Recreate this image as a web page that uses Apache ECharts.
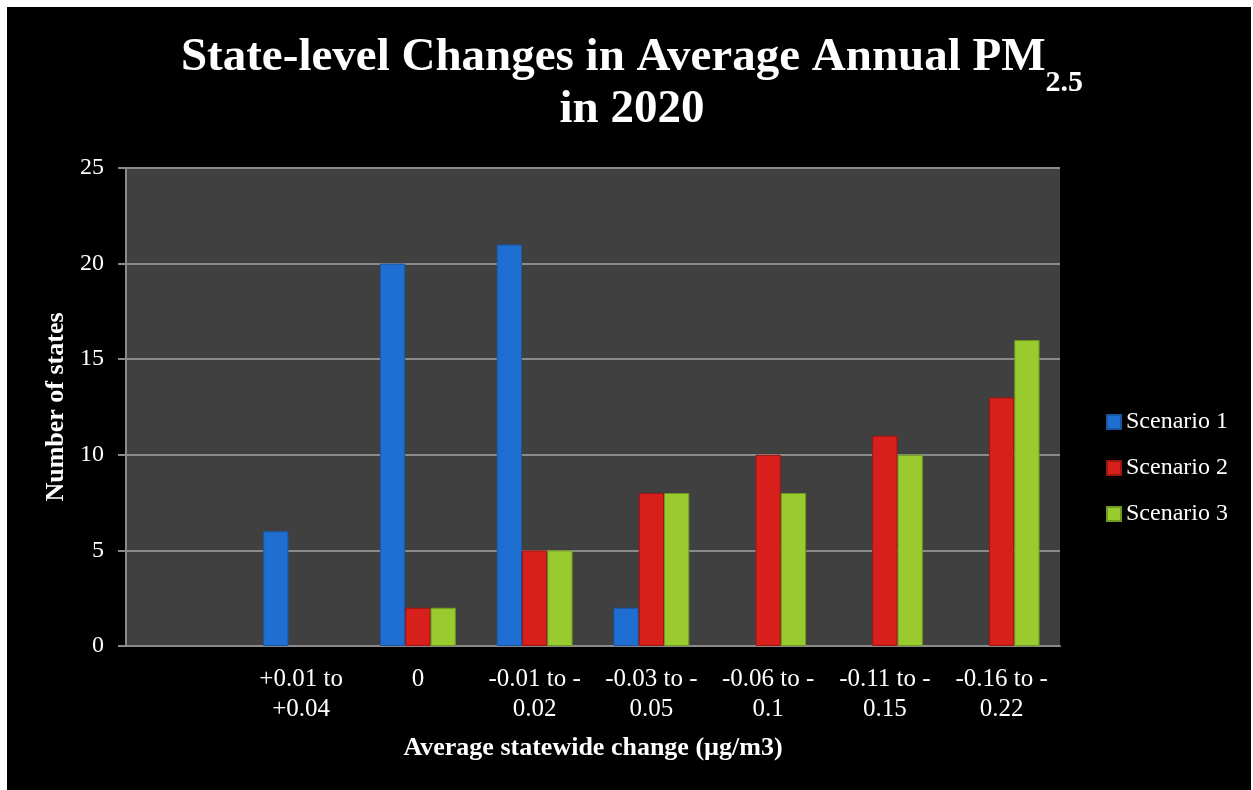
<!DOCTYPE html>
<html>
<head>
<meta charset="utf-8">
<script src="https://cdn.jsdelivr.net/npm/echarts@6/dist/echarts.min.js"></script>
<style>
  html, body { margin: 0; padding: 0; background: #ffffff; }
  #chart { position: absolute; left: 7px; top: 7px; width: 1244px; height: 783px; }
</style>
</head>
<body>
<div id="chart"></div>
<script>
const categories = ['', '+0.01 to\n+0.04', '0', '-0.01 to -\n0.02', '-0.03 to -\n0.05', '-0.06 to -\n0.1', '-0.11 to -\n0.15', '-0.16 to -\n0.22'];
const scenario1 = [0, 6, 20, 21, 2, 0, 0, 0];
const scenario2 = [0, 0, 2, 5, 8, 10, 11, 13];
const scenario3 = [0, 0, 2, 5, 8, 8, 10, 16];
const yTicks = [0, 5, 10, 15, 20, 25];

const serif = '"Liberation Serif", "DejaVu Serif", serif';
const chart = echarts.init(document.getElementById('chart'));

function barSeries(name, data, color, border) {
  return {
    name: name,
    type: 'bar',
    // zero counts are left empty, as in the original chart
    data: data.map(v => (v === 0 ? null : v)),
    barGap: '0%',
    barCategoryGap: '35%',
    itemStyle: { color: color, borderColor: border, borderWidth: 1 }
  };
}

chart.setOption({
  backgroundColor: '#000000',
  animation: false,
  title: [{
    text: '{t|State-level Changes in Average Annual PM}{s|2.5}{g| }',
    left: 620,
    textAlign: 'center',
    top: 22,
    textStyle: {
      rich: {
        t: { fontFamily: serif, fontWeight: 'bold', fontSize: 47, color: '#ffffff', lineHeight: 50, verticalAlign: 'top' },
        s: { fontFamily: serif, fontWeight: 'bold', fontSize: 30, color: '#ffffff', lineHeight: 30, verticalAlign: 'bottom' },
        g: { fontSize: 1, lineHeight: 64, width: 0, verticalAlign: 'bottom' }
      }
    }
  }, {
    text: 'in 2020',
    left: 620,
    textAlign: 'center',
    top: 73,
    textStyle: { fontFamily: serif, fontWeight: 'bold', fontSize: 47, color: '#ffffff', lineHeight: 50 }
  }],
  legend: {
    orient: 'vertical',
    left: 1094,
    top: 398,
    itemWidth: 14,
    itemHeight: 14,
    itemGap: 22,
    icon: 'rect',
    textStyle: { fontFamily: serif, fontSize: 24, color: '#ffffff' },
    data: ['Scenario 1', 'Scenario 2', 'Scenario 3']
  },
  grid: {
    left: 119,
    top: 161,
    right: 191,
    bottom: 144,
    show: true,
    backgroundColor: '#404040',
    borderWidth: 0
  },
  xAxis: {
    type: 'category',
    data: categories,
    name: 'Average statewide change (µg/m3)',
    nameLocation: 'middle',
    nameGap: 89,
    nameTextStyle: { fontFamily: serif, fontWeight: 'bold', fontSize: 26, color: '#ffffff' },
    axisLine: { lineStyle: { color: '#8a8a8a', width: 2 } },
    axisTick: { show: false },
    axisLabel: { fontFamily: serif, fontSize: 25, color: '#ffffff', lineHeight: 30, margin: 18, interval: 0 },
    splitLine: { show: false }
  },
  yAxis: {
    type: 'value',
    min: yTicks[0],
    max: yTicks[yTicks.length - 1],
    interval: 5,
    name: 'Number of states',
    nameLocation: 'middle',
    nameRotate: 90,
    nameGap: 55,
    nameTextStyle: { fontFamily: serif, fontWeight: 'bold', fontSize: 26, color: '#ffffff' },
    axisLine: { show: true, lineStyle: { color: '#8a8a8a', width: 2 } },
    axisTick: { show: true, length: 8, lineStyle: { color: '#8a8a8a', width: 2 } },
    axisLabel: { fontFamily: serif, fontSize: 24, color: '#ffffff', margin: 22 },
    splitLine: { show: true, lineStyle: { color: '#8a8a8a', width: 2 } }
  },
  series: [
    barSeries('Scenario 1', scenario1, '#1F6FD2', '#1A56A0'),
    barSeries('Scenario 2', scenario2, '#D7201C', '#9E1512'),
    barSeries('Scenario 3', scenario3, '#9ACB2E', '#6E9A1E')
  ]
});
</script>
</body>
</html>
